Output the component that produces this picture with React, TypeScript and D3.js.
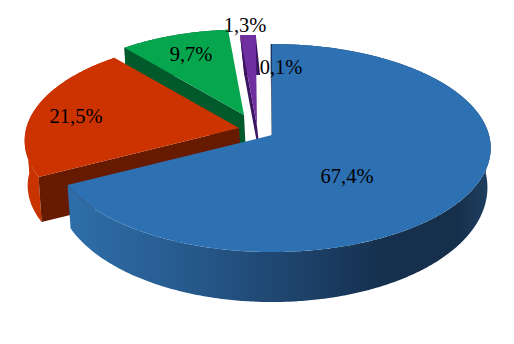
import React from 'react';
import * as d3 from 'd3';

const values = [67.4, 21.5, 9.7, 1.3, 0.1];
const topColors = ['#2e71b3', '#cc3300', '#06a64f', '#7030a0', '#1c3560'];
const edgeColors = ['#1b3f66', '#661a00', '#005a2c', '#3c1561', '#1c3560'];
const rimColors = ['url(#blueWall)', '#c93300', '#005a2c', '#3c1561', '#1c3560'];

// how far each slice is pulled out of the pie, and its wall
const explodeX = [0, -33, -28, -15, 0];
const explodeY = [0, -7, -20, -9, 0];
const shrink = [1, 0.98, 0.94, 1, 1];
const depths = [0, 45, 40, 40, 30];
const leans = [0, 3, 2, 4.3, 0];

// label offsets from the pie centre
const labelX = [75, -196, -81, -27, 9];
const labelY = [41, -19, -81, -110, -68];

const width = 514;
const height = 344;
const cx = 272;
const cy = 135;
const rx = 217;
const ry = 102.4;
const persp = 0.125;

const fmt = d3.formatLocale({
  decimal: ',',
  thousands: ' ',
  grouping: [3],
  currency: ['', ''],
}).format('.1f');

// circle point (clockwise from 12 o'clock) to screen, with perspective
const project = (a: number): [number, number] => {
  const u = Math.sin(a);
  const v = -Math.cos(a);
  const w = 1 - persp * v;
  return [(rx * u) / w, (ry * v) / w];
};

// blue wall gets thicker towards the viewer
const blueDepth = (a: number) => 38 - 12 * Math.cos(a);

const line = d3.line();

const arcAngles = (a0: number, a1: number) => {
  const n = Math.max(2, Math.ceil((a1 - a0) / 0.01));
  return d3.range(n + 1).map((i) => a0 + ((a1 - a0) * i) / n);
};

// the wall folds at 3 and 9 o'clock, so each side needs its own path
const splitAtFolds = (a0: number, a1: number) => {
  const stops = [a0, Math.PI / 2, (3 * Math.PI) / 2, a1].filter((a) => a >= a0 && a <= a1);
  return d3.pairs(stops.sort(d3.ascending));
};

const App = () => {
  const slices = d3
    .pie<number>()
    .sort(null)
    .value((d) => d)(values);

  // back to front, the big slice goes on top
  const order = [4, 3, 2, 1, 0];

  return (
    <svg
      width={width}
      height={height}
      style={{ position: 'absolute', left: 0, top: 0, background: '#fff' }}
    >
      <defs>
        <linearGradient id="blueWall" gradientUnits="userSpaceOnUse" x1="70" x2="490" y1="0" y2="0">
          <stop offset="0" stopColor="#2e6ea8" />
          <stop offset="0.25" stopColor="#275c90" />
          <stop offset="0.5" stopColor="#1f4670" />
          <stop offset="0.75" stopColor="#15304e" />
          <stop offset="0.92" stopColor="#162f4b" />
          <stop offset="1" stopColor="#1d4060" />
        </linearGradient>
      </defs>
      {order.map((i) => {
        const s = slices[i];
        const ax = cx + explodeX[i];
        const ay = cy + explodeY[i];
        const top = (a: number): [number, number] => {
          const [x, y] = project(a);
          return [ax + x * shrink[i], ay + y * shrink[i]];
        };
        const bottom = (a: number): [number, number] => {
          const [x, y] = top(a);
          if (i === 0) return [cx + (x - cx) * 0.985, y + blueDepth(a)];
          return [x + leans[i], y + depths[i]];
        };
        const apex: [number, number] = [ax, ay];
        const apexLow: [number, number] =
          i === 0 ? [cx, cy + 38] : [ax + leans[i], ay + depths[i]];
        const angles = arcAngles(s.startAngle, s.endAngle);

        const topPath = line([apex, ...angles.map(top)]) + 'Z';
        const wall = (a: number) => line([apex, top(a), bottom(a), apexLow]) + 'Z';

        return (
          <g key={i}>
            {splitAtFolds(s.startAngle, s.endAngle).map(([a0, a1]) => {
              const part = arcAngles(a0, a1);
              const d =
                line([...part.map(top), ...part.slice().reverse().map(bottom)]) + 'Z';
              return <path key={a0} d={d} fill={rimColors[i]} />;
            })}
            <path d={wall(s.startAngle)} fill={edgeColors[i]} />
            <path d={topPath} fill={topColors[i]} />
          </g>
        );
      })}
      {values.map((v, i) => (
        <text
          key={i}
          x={cx + labelX[i]}
          y={cy + labelY[i]}
          dy="0.33em"
          textAnchor="middle"
          fontFamily="'Liberation Serif', serif"
          fontSize={20.5}
          fill="#000"
        >
          {fmt(v)}%
        </text>
      ))}
    </svg>
  );
};

export default App;
